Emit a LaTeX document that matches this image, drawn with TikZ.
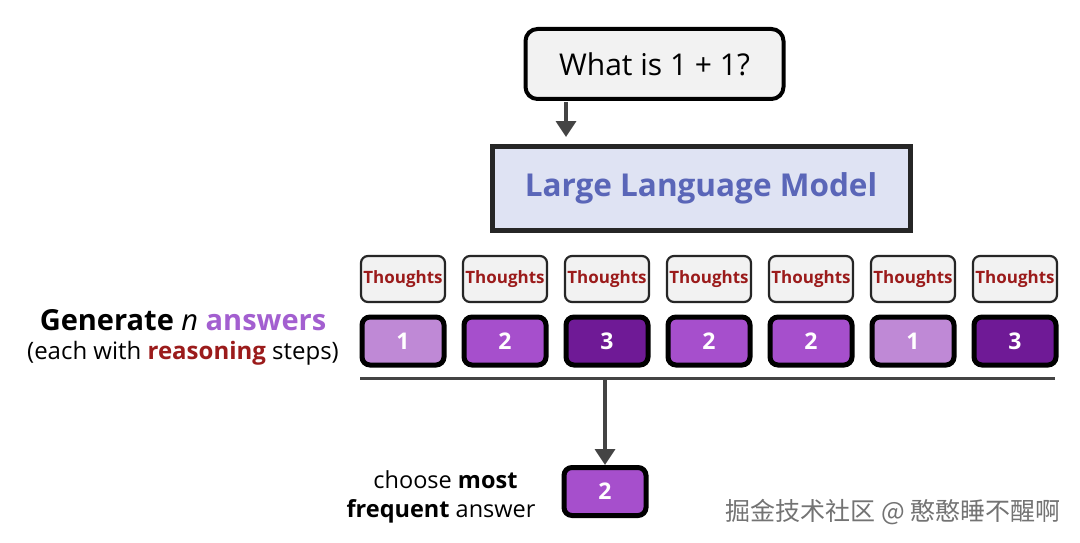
\documentclass[tikz,border=0pt]{standalone}
\usepackage{fontspec}
\setmainfont{Open Sans}
\newfontfamily\cjk{Noto Sans CJK SC}
\usetikzlibrary{arrows.meta}
\definecolor{boxgray}{HTML}{F2F2F2}
\definecolor{llmfill}{HTML}{DFE3F3}
\definecolor{llmtext}{HTML}{5A66B8}
\definecolor{thred}{HTML}{9B1B1B}
\definecolor{aone}{HTML}{BF89D6}
\definecolor{atwo}{HTML}{A64FCC}
\definecolor{athree}{HTML}{6F1A96}
\definecolor{arrgray}{HTML}{444444}
\definecolor{ansviolet}{HTML}{A35FD0}
\tikzset{
  qbox/.style={draw=black, line width=4pt, rounded corners=12pt, fill=boxgray, minimum width=258pt, minimum height=70pt, font=\fontsize{30}{34}\selectfont},
  llmbox/.style={draw=black!85, line width=5pt, fill=llmfill, minimum width=418pt, minimum height=84pt, text=llmtext, font=\fontsize{31.5}{36}\selectfont\bfseries},
  thbox/.style={draw=black!85, line width=2.2pt, rounded corners=7pt, fill=boxgray, minimum width=84pt, minimum height=46pt, inner sep=0pt, text=thred, font=\fontsize{17}{19}\selectfont\bfseries},
  ansbox/.style={draw=black, line width=5pt, rounded corners=8pt, minimum width=82pt, minimum height=48pt, inner sep=0pt, text=white, font=\fontsize{23}{25}\selectfont\bfseries},
  flow/.style={draw=arrgray, line width=3.5pt, -{Triangle[length=16pt,width=20pt]}},
}
\begin{document}
\begin{tikzpicture}[x=1pt,y=-1pt]
\useasboundingbox[fill=white] (0,0) rectangle (1080,543);
\node[qbox] (q) at (654.5,64) {What is 1 + 1?};
\node[llmbox] (llm) at (701,188.5) {Large Language Model};
\coordinate (qa) at (566,102);
\coordinate (qb) at (566,137);
\draw[flow] (qa) -- (qb);
% thoughts and answers
\foreach \i/\x/\c/\n in {1/403/aone/1, 2/505/atwo/2, 3/607/athree/3, 4/709/atwo/2, 5/811/atwo/2, 6/913/aone/1, 7/1015/athree/3}{
  \node[thbox] (t\i) at (\x,279) {Thoughts};
  \node[ansbox, fill=\c] (a\i) at (\x,341) {\n};
}
\coordinate (hl) at (360,378);
\coordinate (hr) at (1055,378);
\draw[arrgray, line width=3pt] (hl) -- (hr);
\coordinate (ha) at (605,378);
\node[ansbox, fill=atwo] (final) at (605,491.5) {2};
\draw[flow] (ha) -- (final.north);
% left labels
\node[font=\fontsize{29}{32}\selectfont] (gen) at (183,320) {\textbf{Generate} \textit{n} \textbf{\textcolor{ansviolet}{answers}}};
\node[font=\fontsize{24}{27}\selectfont] (each) at (183,353) {(each with \textbf{\textcolor{thred}{reasoning}} steps)};
\node[font=\fontsize{23.5}{26}\selectfont, anchor=east] (ch1) at (521,480) {choose \textbf{most}};
\node[font=\fontsize{23.5}{26}\selectfont, anchor=east] (ch2) at (539,511) {\textbf{frequent} answer};
% watermark
\node[font=\cjk\fontsize{25}{28}\selectfont, text=black!55, anchor=east] (wm) at (1064,512) {掘金技术社区 @ 憨憨睡不醒啊};
\end{tikzpicture}
\end{document}
